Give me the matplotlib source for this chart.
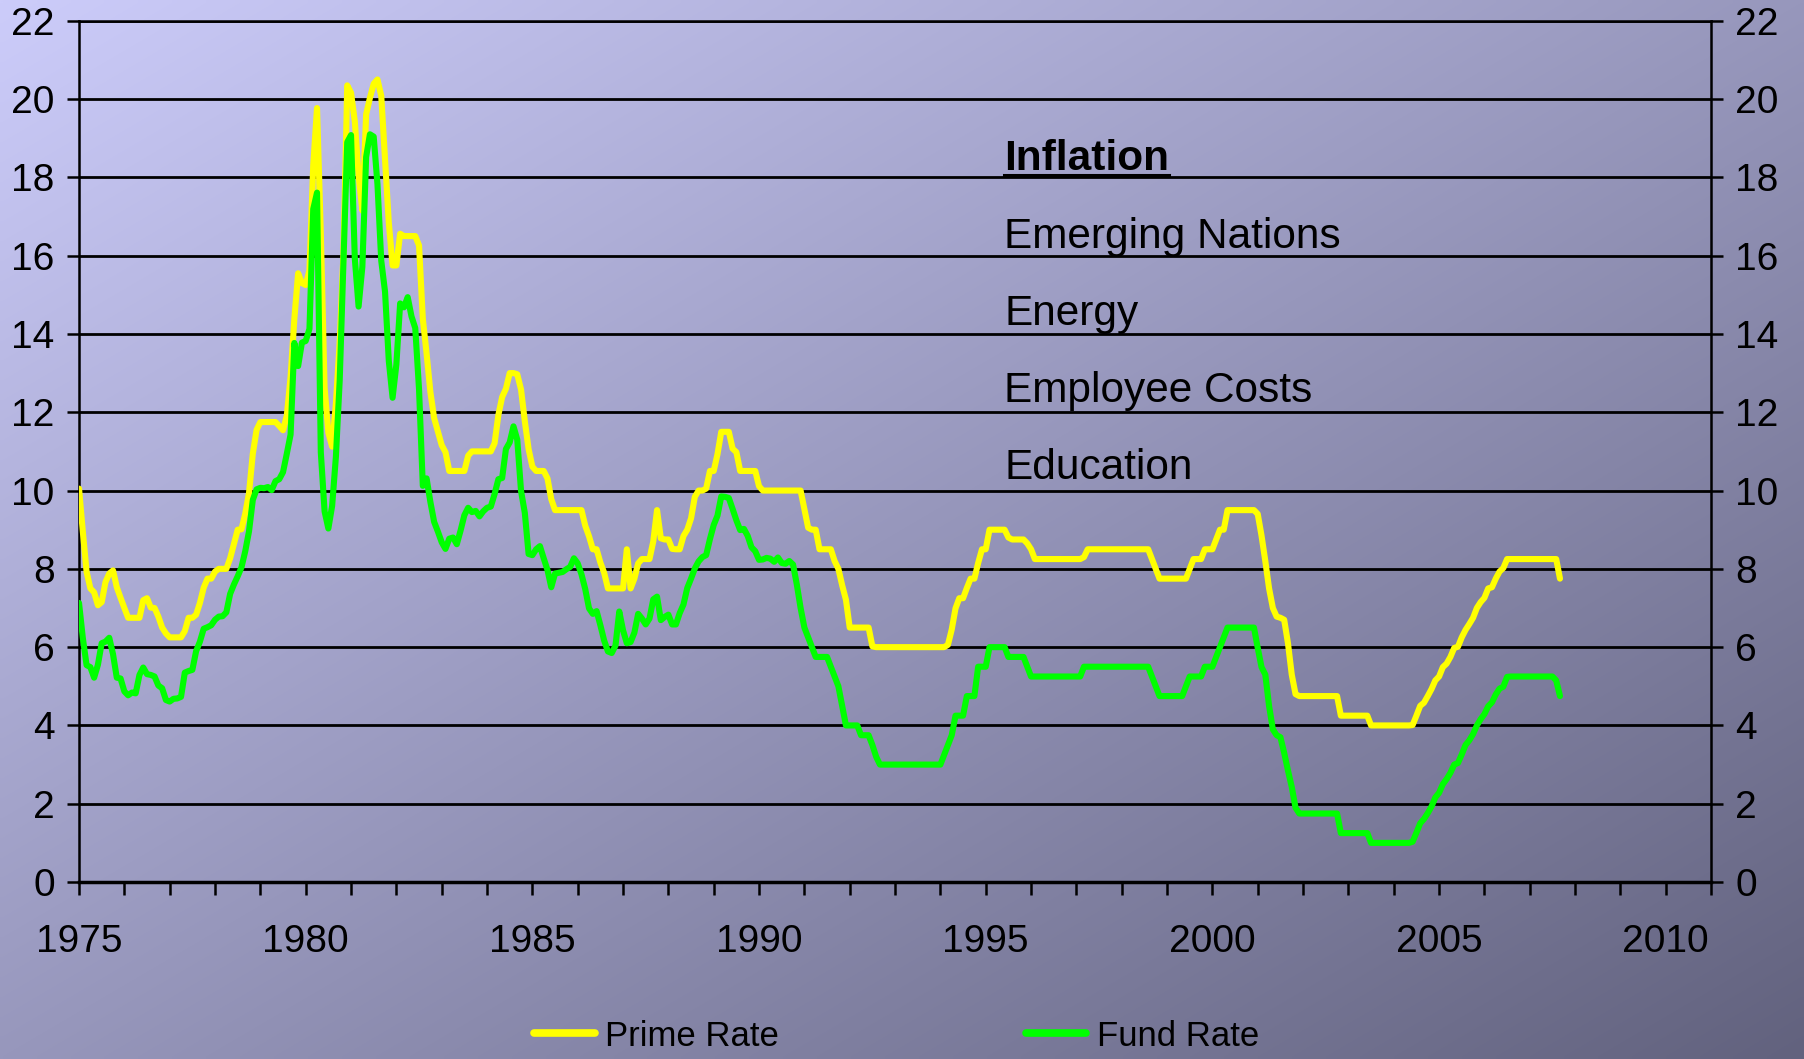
"""Prime rate and fund rate, monthly, 1975 to 2007, on a gradient background."""

import matplotlib
matplotlib.use('Agg')
import matplotlib.pyplot as plt
import numpy as np
from matplotlib import font_manager
from matplotlib.lines import Line2D

plt.rcParams['font.family'] = ['Liberation Sans', 'DejaVu Sans']

# Monthly values, Jan 1975 .. Sep 2007
prime_rate = [
    10.05, 8.96, 7.93, 7.50, 7.40, 7.07, 7.15, 7.66, 7.88, 7.96, 7.53, 7.26,      # 1975
    7.00, 6.75, 6.75, 6.75, 6.75, 7.20, 7.25, 7.01, 7.00, 6.78, 6.50, 6.35,       # 1976
    6.25, 6.25, 6.25, 6.25, 6.41, 6.75, 6.75, 6.83, 7.13, 7.52, 7.75, 7.75,       # 1977
    7.93, 8.00, 8.00, 8.00, 8.27, 8.63, 9.00, 9.01, 9.41, 9.94, 10.94, 11.55,     # 1978
    11.75, 11.75, 11.75, 11.75, 11.75, 11.65, 11.54, 11.91, 12.90, 14.39, 15.55, 15.30,  # 1979
    15.25, 15.63, 18.31, 19.77, 16.57, 12.63, 11.48, 11.12, 12.23, 13.79, 16.06, 20.35,  # 1980
    20.16, 19.43, 18.05, 17.15, 19.61, 20.03, 20.39, 20.50, 20.08, 18.45, 16.84, 15.75,  # 1981
    15.75, 16.56, 16.50, 16.50, 16.50, 16.50, 16.26, 14.39, 13.50, 12.52, 11.85, 11.50,  # 1982
    11.16, 10.98, 10.50, 10.50, 10.50, 10.50, 10.50, 10.89, 11.00, 11.00, 11.00, 11.00,  # 1983
    11.00, 11.00, 11.21, 11.93, 12.39, 12.60, 13.00, 13.00, 12.97, 12.58, 11.77, 11.06,  # 1984
    10.61, 10.50, 10.50, 10.50, 10.31, 9.78, 9.50, 9.50, 9.50, 9.50, 9.50, 9.50,         # 1985
    9.50, 9.50, 9.10, 8.83, 8.50, 8.50, 8.16, 7.90, 7.50, 7.50, 7.50, 7.50,              # 1986
    7.50, 8.50, 7.50, 7.75, 8.14, 8.25, 8.25, 8.25, 8.70, 9.50, 8.78, 8.75,              # 1987
    8.75, 8.51, 8.50, 8.50, 8.84, 9.00, 9.29, 9.84, 10.00, 10.00, 10.05, 10.50,          # 1988
    10.50, 10.93, 11.50, 11.50, 11.50, 11.07, 10.98, 10.50, 10.50, 10.50, 10.50, 10.50,  # 1989
    10.11, 10.00, 10.00, 10.00, 10.00, 10.00, 10.00, 10.00, 10.00, 10.00, 10.00, 10.00,  # 1990
    9.52, 9.05, 9.00, 9.00, 8.50, 8.50, 8.50, 8.50, 8.20, 8.00, 7.58, 7.21,              # 1991
    6.50, 6.50, 6.50, 6.50, 6.50, 6.50, 6.02, 6.00, 6.00, 6.00, 6.00, 6.00,              # 1992
    6.00, 6.00, 6.00, 6.00, 6.00, 6.00, 6.00, 6.00, 6.00, 6.00, 6.00, 6.00,              # 1993
    6.00, 6.00, 6.06, 6.45, 6.99, 7.25, 7.25, 7.51, 7.75, 7.75, 8.15, 8.50,              # 1994
    8.50, 9.00, 9.00, 9.00, 9.00, 9.00, 8.80, 8.75, 8.75, 8.75, 8.75, 8.65,              # 1995
    8.50, 8.25, 8.25, 8.25, 8.25, 8.25, 8.25, 8.25, 8.25, 8.25, 8.25, 8.25,              # 1996
    8.25, 8.25, 8.30, 8.50, 8.50, 8.50, 8.50, 8.50, 8.50, 8.50, 8.50, 8.50,              # 1997
    8.50, 8.50, 8.50, 8.50, 8.50, 8.50, 8.50, 8.50, 8.25, 8.00, 7.75, 7.75,              # 1998
    7.75, 7.75, 7.75, 7.75, 7.75, 7.75, 8.00, 8.25, 8.25, 8.25, 8.50, 8.50,              # 1999
    8.50, 8.75, 9.00, 9.00, 9.50, 9.50, 9.50, 9.50, 9.50, 9.50, 9.50, 9.50,              # 2000
    9.40, 8.85, 8.20, 7.50, 7.00, 6.78, 6.75, 6.70, 6.10, 5.30, 4.80, 4.75,              # 2001
    4.75, 4.75, 4.75, 4.75, 4.75, 4.75, 4.75, 4.75, 4.75, 4.75, 4.25, 4.25,              # 2002
    4.25, 4.25, 4.25, 4.25, 4.25, 4.25, 4.00, 4.00, 4.00, 4.00, 4.00, 4.00,              # 2003
    4.00, 4.00, 4.00, 4.00, 4.00, 4.01, 4.25, 4.50, 4.58, 4.75, 4.93, 5.15,              # 2004
    5.25, 5.49, 5.58, 5.75, 5.98, 6.01, 6.25, 6.44, 6.59, 6.75, 7.00, 7.15,              # 2005
    7.26, 7.50, 7.53, 7.75, 7.93, 8.02, 8.25, 8.25, 8.25, 8.25, 8.25, 8.25,              # 2006
    8.25, 8.25, 8.25, 8.25, 8.25, 8.25, 8.25, 8.25, 7.75,                                # 2007
]

fund_rate = [
    7.13, 6.24, 5.54, 5.49, 5.22, 5.55, 6.10, 6.14, 6.24, 5.82, 5.22, 5.20,       # 1975
    4.87, 4.77, 4.84, 4.82, 5.29, 5.48, 5.31, 5.29, 5.25, 5.02, 4.95, 4.65,       # 1976
    4.61, 4.68, 4.69, 4.73, 5.35, 5.39, 5.42, 5.90, 6.14, 6.47, 6.51, 6.56,       # 1977
    6.70, 6.78, 6.79, 6.89, 7.36, 7.60, 7.81, 8.04, 8.45, 8.96, 9.76, 10.03,      # 1978
    10.07, 10.06, 10.09, 10.01, 10.24, 10.29, 10.47, 10.94, 11.43, 13.77, 13.18, 13.78,  # 1979
    13.82, 14.13, 17.19, 17.61, 10.98, 9.47, 9.03, 9.61, 10.87, 12.81, 15.85, 18.90,     # 1980
    19.08, 15.93, 14.70, 15.72, 18.52, 19.10, 19.04, 17.82, 15.87, 15.08, 13.31, 12.37,  # 1981
    13.22, 14.78, 14.68, 14.94, 14.45, 14.15, 12.59, 10.12, 10.31, 9.71, 9.20, 8.95,     # 1982
    8.68, 8.51, 8.77, 8.80, 8.63, 8.98, 9.37, 9.56, 9.45, 9.48, 9.34, 9.47,              # 1983
    9.56, 9.59, 9.91, 10.29, 10.32, 11.06, 11.23, 11.64, 11.30, 9.99, 9.43, 8.38,        # 1984
    8.35, 8.50, 8.58, 8.27, 7.97, 7.53, 7.88, 7.90, 7.92, 7.99, 8.05, 8.27,              # 1985
    8.14, 7.86, 7.48, 6.99, 6.85, 6.92, 6.56, 6.17, 5.89, 5.85, 6.04, 6.91,              # 1986
    6.43, 6.10, 6.13, 6.37, 6.85, 6.73, 6.58, 6.73, 7.22, 7.29, 6.69, 6.77,              # 1987
    6.83, 6.58, 6.58, 6.87, 7.09, 7.51, 7.75, 8.01, 8.19, 8.30, 8.35, 8.76,              # 1988
    9.12, 9.36, 9.85, 9.84, 9.81, 9.53, 9.24, 8.99, 9.02, 8.84, 8.55, 8.45,              # 1989
    8.23, 8.24, 8.28, 8.26, 8.18, 8.29, 8.15, 8.13, 8.20, 8.11, 7.60, 7.00,              # 1990
    6.50, 6.25, 6.00, 5.75, 5.75, 5.75, 5.75, 5.50, 5.25, 5.00, 4.50, 4.00,              # 1991
    4.00, 4.00, 4.00, 3.75, 3.75, 3.75, 3.50, 3.20, 3.00, 3.00, 3.00, 3.00,              # 1992
    3.00, 3.00, 3.00, 3.00, 3.00, 3.00, 3.00, 3.00, 3.00, 3.00, 3.00, 3.00,              # 1993
    3.00, 3.25, 3.50, 3.75, 4.25, 4.25, 4.25, 4.75, 4.75, 4.75, 5.50, 5.50,              # 1994
    5.50, 6.00, 6.00, 6.00, 6.00, 6.00, 5.75, 5.75, 5.75, 5.75, 5.75, 5.50,              # 1995
    5.25, 5.25, 5.25, 5.25, 5.25, 5.25, 5.25, 5.25, 5.25, 5.25, 5.25, 5.25,              # 1996
    5.25, 5.25, 5.50, 5.50, 5.50, 5.50, 5.50, 5.50, 5.50, 5.50, 5.50, 5.50,              # 1997
    5.50, 5.50, 5.50, 5.50, 5.50, 5.50, 5.50, 5.50, 5.25, 5.00, 4.75, 4.75,              # 1998
    4.75, 4.75, 4.75, 4.75, 4.75, 5.00, 5.25, 5.25, 5.25, 5.25, 5.50, 5.50,              # 1999
    5.50, 5.75, 6.00, 6.25, 6.50, 6.50, 6.50, 6.50, 6.50, 6.50, 6.50, 6.50,              # 2000
    5.98, 5.49, 5.30, 4.50, 3.90, 3.75, 3.70, 3.30, 2.85, 2.43, 1.90, 1.75,              # 2001
    1.75, 1.75, 1.75, 1.75, 1.75, 1.75, 1.75, 1.75, 1.75, 1.75, 1.25, 1.25,              # 2002
    1.25, 1.25, 1.25, 1.25, 1.25, 1.25, 1.00, 1.00, 1.00, 1.00, 1.00, 1.00,              # 2003
    1.00, 1.00, 1.00, 1.00, 1.00, 1.03, 1.26, 1.50, 1.61, 1.76, 1.93, 2.16,              # 2004
    2.28, 2.50, 2.63, 2.79, 3.00, 3.04, 3.26, 3.50, 3.62, 3.78, 4.00, 4.16,              # 2005
    4.29, 4.49, 4.59, 4.79, 4.94, 4.99, 5.24, 5.25, 5.25, 5.25, 5.25, 5.25,              # 2006
    5.25, 5.25, 5.25, 5.25, 5.25, 5.25, 5.25, 5.15, 4.75,                                # 2007
]

series_names = ['Prime Rate', 'Fund Rate']
series_colors = ['#ffff00', '#00ff00']
drivers = ['Inflation', 'Emerging Nations', 'Energy', 'Employee Costs', 'Education']
year_ticks = [1975, 1980, 1985, 1990, 1995, 2000, 2005, 2010]
rate_ticks = [0, 2, 4, 6, 8, 10, 12, 14, 16, 18, 20, 22]

# month positions on the year axis
years = 1975 + np.arange(len(prime_rate)) / 12

installed = {f.name for f in font_manager.fontManager.ttflist}
legend_font = 'Liberation Sans Narrow' if 'Liberation Sans Narrow' in installed else 'Liberation Sans'
legend_size = 29 if legend_font == 'Liberation Sans Narrow' else 25

fig = plt.figure(figsize=(18.04, 10.59), dpi=100)

# diagonal gradient behind everything
bg = fig.add_axes([0, 0, 1, 1], zorder=-10)
bg.axis('off')
yy, xx = np.mgrid[0:1:200j, 0:1:340j]
t = (xx + yy) / 2
light = np.array([204, 204, 250]) / 255
dark = np.array([98, 98, 126]) / 255
bg.imshow(light + (dark - light) * t[..., None], extent=[0, 1, 0, 1],
          aspect='auto', interpolation='bilinear', origin='upper')

ax = fig.add_axes([0.0438, 0.1671, 0.9047, 0.8133])
ax.set_facecolor('none')
for values, name, color in zip([prime_rate, fund_rate], series_names, series_colors):
    ax.plot(years, values, color=color, lw=4.4, label=name,
            solid_joinstyle='round', solid_capstyle='round', zorder=3)

ax.set_xlim(1975, 2011)
ax.set_ylim(0, 22)
ax.set_yticks(rate_ticks)
ax.set_xticks(year_ticks)
ax.set_xticks(range(1975, 2012), minor=True)
ax.grid(axis='y', color='black', lw=2)

ax.tick_params(axis='y', left=True, right=True, labelleft=True, labelright=True,
               direction='out', length=8.5, width=1.8, labelsize=28, pad=9)
ax.tick_params(axis='x', which='both', direction='out', length=9, width=1.8,
               labelsize=28, pad=21)
for side in ['left', 'right', 'top']:
    ax.spines[side].set_linewidth(1.8)
ax.spines['bottom'].set_linewidth(2.5)

# list of drivers written inside the plot
labels = []
for i, text in enumerate(drivers):
    lbl = ax.text(0.5668, 0.8263 - 0.0896 * i, text, transform=ax.transAxes,
                  fontsize=30.5, fontweight='bold' if i == 0 else 'normal',
                  ha='left', va='baseline', color='black', zorder=4)
    labels.append(lbl)

# underline the first entry
fig.canvas.draw()
bb = labels[0].get_window_extent(fig.canvas.get_renderer())
base = ax.transAxes.transform((0, 0.8263))[1]
W, H = fig.bbox.width, fig.bbox.height
fig.add_artist(Line2D([bb.x0 / W, bb.x1 / W], [(base - 5) / H, (base - 5) / H],
                      color='black', lw=2.2))

handles = [Line2D([], [], color=c, lw=5.5, solid_capstyle='round') for c in series_colors]
fig.legend(handles, series_names, loc='center', bbox_to_anchor=(0.497, 0.0217),
           ncol=2, frameon=False, handlelength=1.75, handletextpad=0.3,
           columnspacing=7.1, prop={'family': legend_font, 'size': legend_size})

fig.savefig('out.png', dpi=100)
